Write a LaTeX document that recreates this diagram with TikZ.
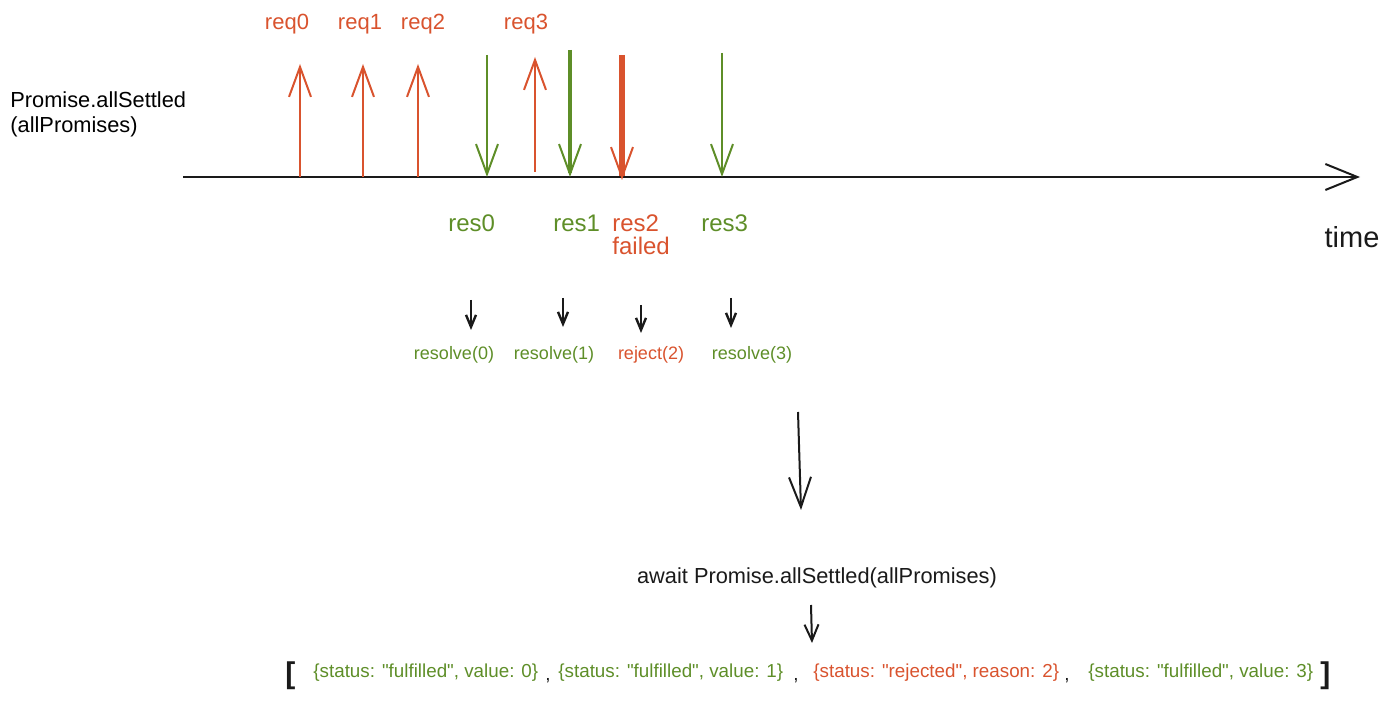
\documentclass[tikz,border=0pt]{standalone}
\usepackage{fontspec}
\setmainfont{Liberation Sans}[Ligatures=TeXOff]
\usetikzlibrary{arrows.meta}
\definecolor{cred}{HTML}{D9532E}
\definecolor{cgreen}{HTML}{5E8E28}
\definecolor{cink}{HTML}{1A1A1A}
\tikzset{
  bigtip/.style={-{Straight Barb[length=15pt,width=11pt,line width=1pt]}},
  smalltip/.style={-{Straight Barb[length=6pt,width=5pt,line width=1.2pt]}},
  reqarrow/.style={bigtip, cred, line width=1pt},
  resarrow/.style={bigtip, cgreen, line width=1pt},
  lbl/.style={inner sep=0pt, anchor=base},
  reqlbl/.style={lbl, text=cred, font=\fontsize{11}{13}\selectfont},
  reslbl/.style={lbl, anchor=base west, font=\fontsize{12}{14}\selectfont},
  fnlbl/.style={lbl, font=\fontsize{9}{11}\selectfont},
  arrlbl/.style={lbl, anchor=base west, font=\fontsize{9.4}{11}\selectfont},
}
\begin{document}
\begin{tikzpicture}[x=0.5pt,y=-0.5pt]
\useasboundingbox (0,0) rectangle (1392,710);
% timeline
\coordinate (tl0) at (183,177);
\coordinate (tl1) at (1360,177);
\draw[cink, line width=1.1pt, -{Straight Barb[length=16pt,width=13pt,line width=1pt]}] (tl0) -- (tl1);
\node[lbl, anchor=base west, font=\fontsize{10.9}{13}\selectfont] (ps) at (10,108) {Promise.allSettled};
\node[lbl, anchor=base west, font=\fontsize{10.9}{13}\selectfont] (ap) at (10,133) {(allPromises)};
\node[lbl, font=\fontsize{14.5}{16}\selectfont, text=cink] (time) at (1352,248) {time};
% request arrows
\foreach \n/\x/\ya/\yb/\lx in {0/300/177/64/287, 1/363/177/64/360, 2/418/177/64/423, 3/535/172/57/526}{
  \coordinate (rqs\n) at (\x,\ya);
  \coordinate (rqe\n) at (\x,\yb);
  \draw[reqarrow] (rqs\n) -- (rqe\n);
  \node[reqlbl] (req\n) at (\lx,30) {req\n};
}
% response arrows
\coordinate (rs0) at (487,55);  \coordinate (re0) at (487,177);
\coordinate (rs1) at (570,50);  \coordinate (re1) at (570,177);
\coordinate (rs2) at (622,55);  \coordinate (re2) at (622,180);
\coordinate (rs3) at (722,53);  \coordinate (re3) at (722,177);
\draw[resarrow] (rs0) -- (re0);
\draw[resarrow, line width=1.6pt] (rs1) -- (re1);
\draw[bigtip, cred, line width=2.6pt] (rs2) -- (re2);
\draw[resarrow] (rs3) -- (re3);
\node[reslbl, text=cgreen] (res0) at (448,232) {res0};
\node[reslbl, text=cgreen] (res1) at (553,232) {res1};
\node[reslbl, text=cred] (res2) at (612,232) {res2};
\node[reslbl, text=cred] (failed) at (612,255) {failed};
\node[reslbl, text=cgreen] (res3) at (701,232) {res3};
% small arrows
\foreach \n/\x/\ya/\yb in {0/471/300/330, 1/563/298/327, 2/641/305/333, 3/731/298/328}{
  \coordinate (ss\n) at (\x,\ya);
  \coordinate (se\n) at (\x,\yb);
  \draw[smalltip, cink, line width=1pt] (ss\n) -- (se\n);
}
\node[fnlbl, text=cgreen] (rv0) at (454,360) {resolve(0)};
\node[fnlbl, text=cgreen] (rv1) at (554,360) {resolve(1)};
\node[fnlbl, text=cred] (rj2) at (651,360) {reject(2)};
\node[fnlbl, text=cgreen] (rv3) at (752,360) {resolve(3)};
% big arrow
\coordinate (bs) at (798,412);
\coordinate (be) at (801,510);
\draw[bigtip, cink, line width=1pt] (bs) -- (be);
\node[lbl, font=\fontsize{10.9}{13}\selectfont, text=cink] (await) at (817,584) {await Promise.allSettled(allPromises)};
\coordinate (as) at (811,605);
\coordinate (ae) at (812,643);
\draw[-{Straight Barb[length=8pt,width=7pt,line width=1pt]}, cink, line width=1pt] (as) -- (ae);
% result array
\node[lbl, anchor=base west, font=\bfseries\fontsize{15}{17}\selectfont, text=cink] (lb) at (285,683) {[};
\node[arrlbl, text=cgreen] (o0) at (313,677) {\{status: "fulfilled", value: 0\}};
\node[arrlbl, text=cink] (c0) at (545,680) {,};
\node[arrlbl, text=cgreen] (o1) at (558,677) {\{status: "fulfilled", value: 1\}};
\node[arrlbl, text=cink] (c1) at (793,680) {,};
\node[arrlbl, text=cred] (o2) at (813,677) {\{status: "rejected", reason: 2\}};
\node[arrlbl, text=cink] (c2) at (1064,680) {,};
\node[arrlbl, text=cgreen] (o3) at (1088,677) {\{status: "fulfilled", value: 3\}};
\node[lbl, anchor=base west, font=\bfseries\fontsize{15}{17}\selectfont, text=cink] (rb) at (1320,683) {]};
\end{tikzpicture}
\end{document}
